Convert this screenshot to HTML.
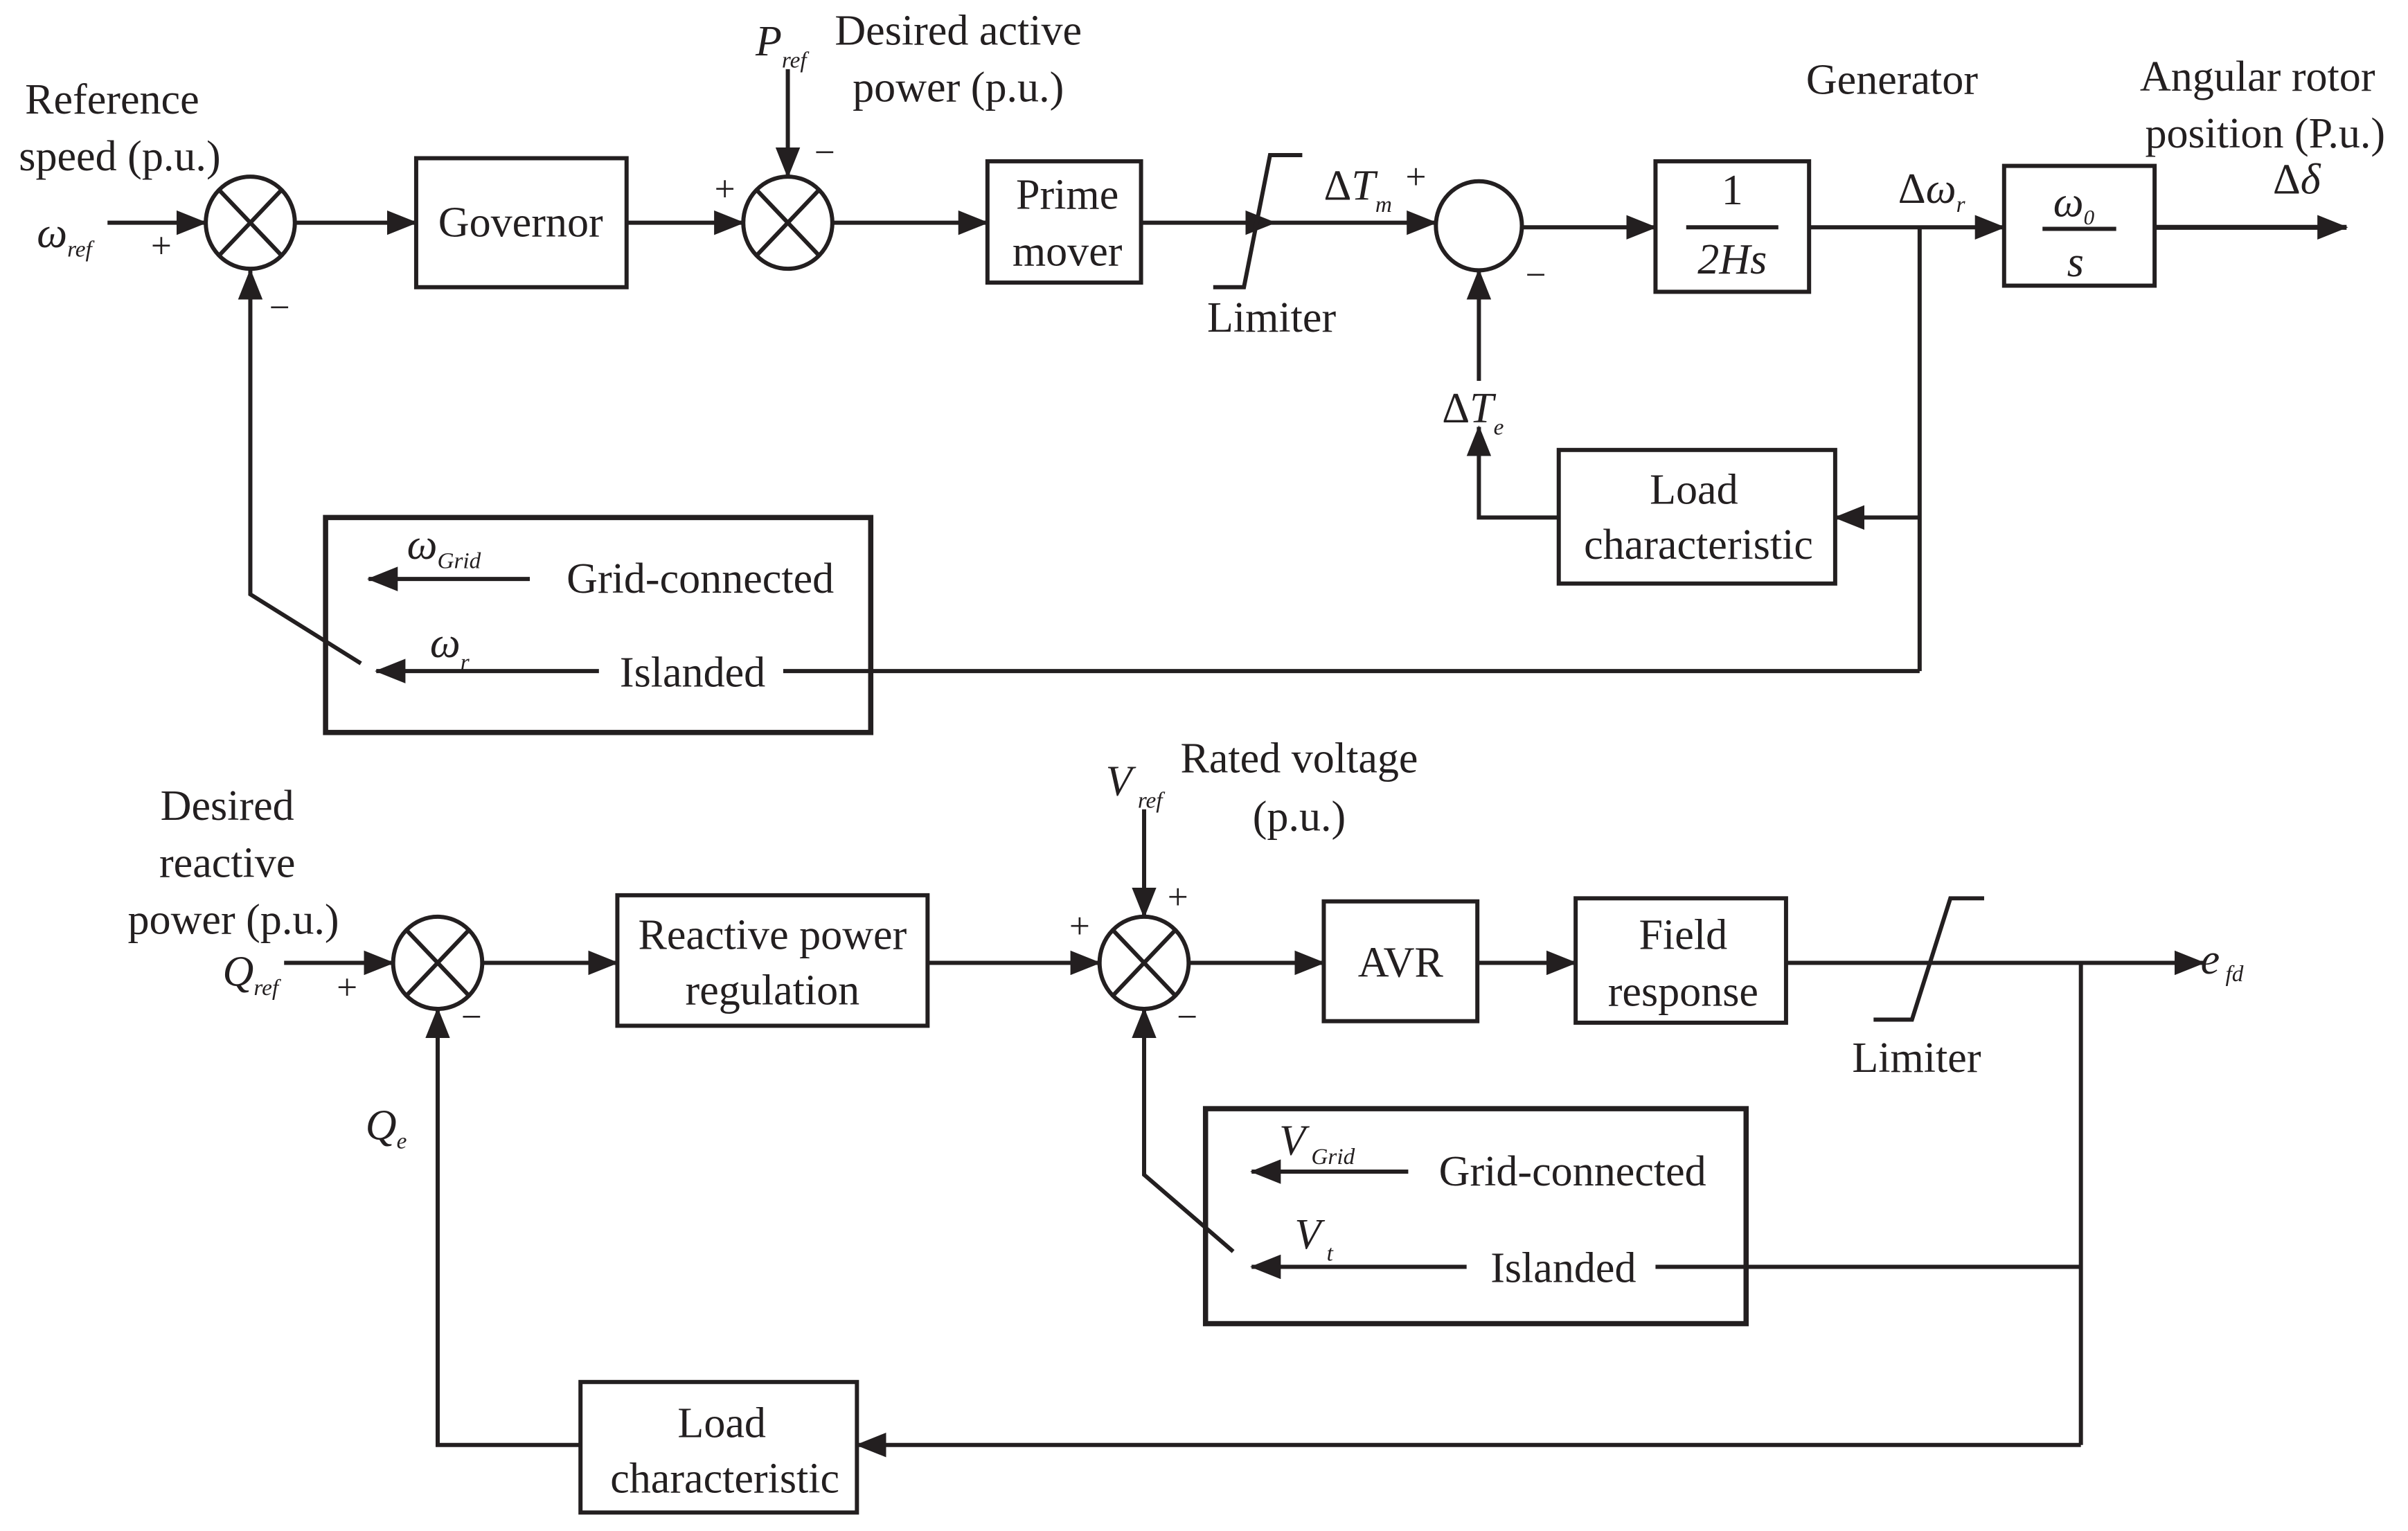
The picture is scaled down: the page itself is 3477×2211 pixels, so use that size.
<!DOCTYPE html>
<html><head><meta charset="utf-8"><style>
html,body{margin:0;padding:0;background:#fff}
svg{display:block}
text{font-family:"Liberation Serif",serif;fill:#231f20}
.i{font-style:italic}
</style></head><body>
<svg width="3477" height="2211" viewBox="0 0 1568 997" xmlns="http://www.w3.org/2000/svg">
<defs>
<marker id="a" markerUnits="userSpaceOnUse" markerWidth="20" markerHeight="16" refX="19" refY="8" orient="auto">
<path d="M0,0 L20,8 L0,16 Z" fill="#231f20"/></marker>
</defs>
<g stroke="#231f20" stroke-width="2.7" fill="none">
<!-- TOP -->
<line x1="70" y1="145" x2="134" y2="145" marker-end="url(#a)"/>
<ellipse cx="163" cy="145" rx="29" ry="30"/>
<line x1="143" y1="124" x2="183" y2="166"/><line x1="183" y1="124" x2="143" y2="166"/>
<line x1="192" y1="145" x2="271" y2="145" marker-end="url(#a)"/>
<rect x="271" y="103" width="137" height="84"/>
<line x1="408" y1="145" x2="484" y2="145" marker-end="url(#a)"/>
<ellipse cx="513" cy="145" rx="29" ry="30"/>
<line x1="493" y1="124" x2="533" y2="166"/><line x1="533" y1="124" x2="493" y2="166"/>
<line x1="513" y1="45" x2="513" y2="115" marker-end="url(#a)"/>
<line x1="542" y1="145" x2="643" y2="145" marker-end="url(#a)"/>
<rect x="643" y="105" width="100" height="79"/>
<line x1="743" y1="145" x2="830" y2="145" marker-end="url(#a)"/>
<polyline points="790,187 810,187 827,101 848,101"/>
<line x1="830" y1="145" x2="935" y2="145" marker-end="url(#a)"/>
<ellipse cx="963" cy="147" rx="28" ry="29"/>
<line x1="991" y1="148" x2="1078" y2="148" marker-end="url(#a)"/>
<rect x="1078" y="105" width="100" height="85"/>
<line x1="1098" y1="148" x2="1158" y2="148"/>
<line x1="1178" y1="148" x2="1305" y2="148" marker-end="url(#a)"/>
<rect x="1305" y="108" width="98" height="78"/>
<line x1="1330" y1="149" x2="1378" y2="149"/>
<line x1="1403" y1="148" x2="1528" y2="148" marker-end="url(#a)" stroke-width="3.2"/>
<line x1="1250" y1="148" x2="1250" y2="437"/>
<line x1="1250" y1="337" x2="1195" y2="337" marker-end="url(#a)"/>
<rect x="1015" y="293" width="180" height="87"/>
<polyline points="1015,337 963,337 963,278" marker-end="url(#a)"/>
<line x1="963" y1="248" x2="963" y2="176" marker-end="url(#a)"/>
<line x1="1250" y1="437" x2="510" y2="437"/>
<rect x="212" y="337" width="355" height="140" stroke-width="3.4"/>
<line x1="345" y1="377" x2="240" y2="377" marker-end="url(#a)"/>
<line x1="390" y1="437" x2="245" y2="437" marker-end="url(#a)"/>
<polyline points="235,432 163,387 163,176" marker-end="url(#a)"/>
<!-- BOTTOM -->
<line x1="185" y1="627" x2="256" y2="627" marker-end="url(#a)"/>
<ellipse cx="285" cy="627" rx="29" ry="30"/>
<line x1="265" y1="606" x2="305" y2="648"/><line x1="305" y1="606" x2="265" y2="648"/>
<line x1="314" y1="627" x2="402" y2="627" marker-end="url(#a)"/>
<rect x="402" y="583" width="202" height="85"/>
<line x1="604" y1="627" x2="716" y2="627" marker-end="url(#a)"/>
<ellipse cx="745" cy="627" rx="29" ry="30"/>
<line x1="725" y1="606" x2="765" y2="648"/><line x1="765" y1="606" x2="725" y2="648"/>
<line x1="745" y1="527" x2="745" y2="597" marker-end="url(#a)"/>
<line x1="774" y1="627" x2="862" y2="627" marker-end="url(#a)"/>
<rect x="862" y="587" width="100" height="78"/>
<line x1="962" y1="627" x2="1026" y2="627" marker-end="url(#a)"/>
<rect x="1026" y="585" width="137" height="81"/>
<line x1="1163" y1="627" x2="1435" y2="627" marker-end="url(#a)"/>
<polyline points="1220,664 1245,664 1270,585 1292,585"/>
<line x1="1355" y1="627" x2="1355" y2="941"/>
<rect x="785" y="722" width="352" height="140" stroke-width="3.4"/>
<line x1="917" y1="763" x2="815" y2="763" marker-end="url(#a)"/>
<line x1="955" y1="825" x2="815" y2="825" marker-end="url(#a)"/>
<line x1="1078" y1="825" x2="1355" y2="825"/>
<polyline points="803,815 745,765 745,657" marker-end="url(#a)"/>
<line x1="1355" y1="941" x2="558" y2="941" marker-end="url(#a)"/>
<rect x="378" y="900" width="180" height="85"/>
<polyline points="378,941 285,941 285,657" marker-end="url(#a)"/>
</g>
<g font-size="28" text-anchor="middle">
<text x="73" y="74">Reference</text>
<text x="78" y="111">speed (p.u.)</text>
<text x="105" y="168" font-size="24">+</text>
<text x="182" y="208" font-size="24">−</text>
<text x="339" y="154">Governor</text>
<text x="472" y="131" font-size="24">+</text>
<text x="537" y="107" font-size="24">−</text>
<text x="624" y="29">Desired active</text>
<text x="624" y="66">power (p.u.)</text>
<text x="695" y="136">Prime</text>
<text x="695" y="173">mover</text>
<text x="828" y="216">Limiter</text>
<text x="922" y="123" font-size="24">+</text>
<text x="1000" y="187" font-size="24">−</text>
<text x="1128" y="133">1</text>
<text x="1128" y="178" class="i">2Hs</text>
<text x="1232" y="61">Generator</text>
<text x="1470" y="59">Angular rotor</text>
<text x="1475" y="96">position (P.u.)</text>
<text x="1103" y="328">Load</text>
<text x="1106" y="364">characteristic</text>
<text x="456" y="386">Grid-connected</text>
<text x="451" y="447">Islanded</text>
<text x="148" y="534">Desired</text>
<text x="148" y="571">reactive</text>
<text x="152" y="608">power (p.u.)</text>
<text x="226" y="651" font-size="24">+</text>
<text x="307" y="670" font-size="24">−</text>
<text x="503" y="618">Reactive power</text>
<text x="503" y="654">regulation</text>
<text x="703" y="611" font-size="24">+</text>
<text x="767" y="592" font-size="24">+</text>
<text x="773" y="670" font-size="24">−</text>
<text x="846" y="503">Rated voltage</text>
<text x="846" y="541">(p.u.)</text>
<text x="912" y="636">AVR</text>
<text x="1096" y="618">Field</text>
<text x="1096" y="655">response</text>
<text x="1248" y="698">Limiter</text>
<text x="1024" y="772">Grid-connected</text>
<text x="1018" y="835">Islanded</text>
<text x="470" y="936">Load</text>
<text x="472" y="972">characteristic</text>
</g>
<g font-size="28" class="i">
<text x="24" y="161">ω<tspan font-size="15" dy="6">ref</tspan></text>
<text x="492" y="36">P<tspan font-size="15" dy="8">ref</tspan></text>
<text x="862" y="130"><tspan font-style="normal">Δ</tspan>T<tspan font-size="15" dy="8">m</tspan></text>
<text x="939" y="275"><tspan font-style="normal">Δ</tspan>T<tspan font-size="15" dy="8">e</tspan></text>
<text x="1236" y="132"><tspan font-style="normal">Δ</tspan>ω<tspan font-size="15" dy="6">r</tspan></text>
<text x="1337" y="141">ω<tspan font-size="14" dy="5">0</tspan></text>
<text x="1346" y="180">s</text>
<text x="1480" y="126"><tspan font-style="normal">Δ</tspan>δ</text>
<text x="265" y="364">ω<tspan font-size="15" dy="6">Grid</tspan></text>
<text x="280" y="428">ω<tspan font-size="15" dy="8">r</tspan></text>
<text x="145" y="642">Q<tspan font-size="15" dy="6">ref</tspan></text>
<text x="720" y="518">V<tspan font-size="15" dy="8"> ref</tspan></text>
<text x="1433" y="634">e<tspan font-size="15" dy="5"> fd</tspan></text>
<text x="833" y="752">V<tspan font-size="15" dy="6"> Grid</tspan></text>
<text x="843" y="813">V<tspan font-size="15" dy="8"> t</tspan></text>
<text x="238" y="742">Q<tspan font-size="15" dy="6">e</tspan></text>
</g>
</svg>
</body></html>
